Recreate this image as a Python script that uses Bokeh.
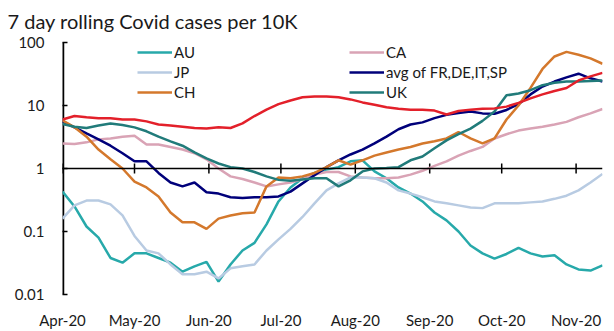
import pandas as pd
from bokeh.plotting import figure
from bokeh.models import (Range1d, FixedTicker, DatetimeTickFormatter, Span,
                          Legend, LegendItem)
from bokeh.embed import file_html
from bokeh.resources import INLINE

dates = ["2020-04-01", "2020-04-06", "2020-04-11", "2020-04-16", "2020-04-21", "2020-04-26",
         "2020-05-01", "2020-05-06", "2020-05-11", "2020-05-16", "2020-05-21", "2020-05-26",
         "2020-05-31", "2020-06-05", "2020-06-10", "2020-06-15", "2020-06-20", "2020-06-25",
         "2020-06-30", "2020-07-05", "2020-07-10", "2020-07-15", "2020-07-20", "2020-07-25",
         "2020-07-30", "2020-08-04", "2020-08-09", "2020-08-14", "2020-08-19", "2020-08-24",
         "2020-08-29", "2020-09-03", "2020-09-08", "2020-09-13", "2020-09-18", "2020-09-23",
         "2020-09-28", "2020-10-03", "2020-10-08", "2020-10-13", "2020-10-18", "2020-10-23",
         "2020-10-28", "2020-11-02", "2020-11-07", "2020-11-12"]

au = [0.43, 0.25, 0.12, 0.08, 0.038, 0.032, 0.045, 0.045, 0.038, 0.032, 0.023, 0.028,
      0.033, 0.016, 0.03, 0.05, 0.066, 0.13, 0.3, 0.5, 0.7, 0.85, 0.96, 1.05,
      1.3, 1.35, 0.9, 0.7, 0.5, 0.4, 0.3, 0.2, 0.15, 0.1, 0.06, 0.045,
      0.037, 0.044, 0.055, 0.045, 0.04, 0.042, 0.03, 0.025, 0.024, 0.029]
ca = [2.5, 2.45, 2.6, 2.9, 3.0, 3.2, 3.3, 2.4, 2.4, 2.2, 2.0, 1.75,
      1.4, 1.0, 0.75, 0.68, 0.6, 0.52, 0.56, 0.6, 0.68, 0.8, 0.88, 0.88,
      0.75, 0.72, 0.7, 0.7, 0.72, 0.8, 0.92, 1.1, 1.3, 1.6, 1.9, 2.2,
      3.0, 3.5, 4.0, 4.3, 4.6, 5.0, 5.5, 6.5, 7.5, 8.8]
jp = [0.16, 0.26, 0.31, 0.31, 0.27, 0.18, 0.085, 0.05, 0.045, 0.03, 0.021, 0.021,
      0.023, 0.018, 0.026, 0.028, 0.03, 0.05, 0.075, 0.11, 0.17, 0.28, 0.45, 0.58,
      0.72, 0.72, 0.7, 0.6, 0.45, 0.4, 0.35, 0.3, 0.28, 0.26, 0.24, 0.235,
      0.28, 0.28, 0.28, 0.29, 0.3, 0.33, 0.37, 0.45, 0.6, 0.82]
eu4 = [5.6, 4.5, 3.6, 2.9, 2.3, 1.75, 1.3, 1.3, 0.85, 0.6, 0.52, 0.6,
       0.42, 0.40, 0.35, 0.34, 0.35, 0.35, 0.36, 0.43, 0.58, 0.78, 1.05, 1.35,
       1.67, 2.0, 2.5, 3.2, 4.2, 5.0, 5.4, 6.3, 7.1, 7.6, 8.0, 7.5,
       7.4, 8.5, 10.5, 15, 20, 24, 28, 32, 27, 24]
ch = [5.8, 4.5, 3.2, 2.0, 1.4, 1.0, 0.62, 0.5, 0.36, 0.2, 0.14, 0.14,
      0.11, 0.16, 0.18, 0.195, 0.2, 0.52, 0.72, 0.7, 0.75, 0.85, 1.05, 1.35,
      1.15, 1.35, 1.6, 1.8, 2.0, 2.2, 2.5, 2.7, 3.0, 3.8, 3.0, 2.5,
      3.0, 6.0, 10, 19, 38, 60, 71, 64, 56, 46]
uk = [5.1, 4.6, 4.4, 4.8, 5.2, 4.9, 4.5, 3.9, 3.2, 2.7, 2.3, 1.8,
      1.45, 1.2, 1.05, 1.0, 0.88, 0.75, 0.66, 0.64, 0.67, 0.7, 0.7, 0.52,
      0.65, 0.9, 1.0, 1.02, 1.05, 1.35, 1.55, 2.1, 2.8, 3.5, 4.3, 5.7,
      8.0, 14.5, 15.5, 17.5, 21, 23, 24, 24, 24.5, 25]
us = [6.0, 6.8, 6.5, 6.3, 6.3, 6.0, 6.0, 5.6, 5.0, 4.8, 4.6, 4.4,
      4.3, 4.5, 4.4, 5.2, 6.8, 8.6, 10.5, 12, 13.5, 13.9, 13.9, 13.5,
      12.5, 11.2, 10.3, 9.4, 8.9, 8.6, 8.6, 8.3, 7.2, 8.2, 8.6, 8.9,
      9.0, 9.6, 11.0, 13, 15, 17, 19, 25, 29, 33]

month_ticks = ["2020-04-01", "2020-05-01", "2020-06-01", "2020-07-01",
               "2020-08-01", "2020-09-01", "2020-10-01", "2020-11-01"]
y_ticks = [0.01, 0.1, 1, 10, 100]
y_labels = ["0.01", "0.1", "1", "10", "100"]

x = pd.to_datetime(dates)
tick_dt = pd.to_datetime(month_ticks)
tick_ms = [float((t - pd.Timestamp("1970-01-01")) // pd.Timedelta(milliseconds=1)) for t in tick_dt]
start = pd.Timestamp("2020-04-01")

# frame top extends a little above 100 so the legend is not clipped
p = figure(width=614, height=331, x_axis_type="datetime", y_axis_type="log",
           x_range=Range1d(start, pd.Timestamp("2020-11-12")),
           y_range=Range1d(0.01, 134), output_backend="svg", toolbar_location=None,
           min_border_left=62, min_border_right=12, min_border_top=34, min_border_bottom=37)
p.outline_line_color = None
p.xgrid.visible = False
p.ygrid.visible = False
p.background_fill_color = "white"
p.border_fill_color = "white"

p.title.text = "7 day rolling Covid cases per 10K"
p.title.text_font = "Lato"
p.title.text_font_size = "20px"
p.title.text_font_style = "normal"
p.title.text_color = "#1a1a1a"
p.title.offset = -55
p.title.standoff = 4

font_color = "#1a1a1a"
p.yaxis.ticker = FixedTicker(ticks=y_ticks)
p.yaxis.major_label_overrides = {t: l for t, l in zip(y_ticks, y_labels)}
p.yaxis.minor_tick_line_color = None
p.yaxis.major_tick_in = 5
p.yaxis.major_tick_out = 0
p.yaxis.major_tick_line_width = 1.5
p.yaxis.axis_line_color = None
p.yaxis.major_label_standoff = 18
p.yaxis.major_label_text_font = "Lato"
p.yaxis.major_label_text_font_size = "15px"
p.yaxis.major_label_text_color = font_color

p.xaxis.ticker = FixedTicker(ticks=tick_ms)
fmt = "%b-%y"
p.xaxis.formatter = DatetimeTickFormatter(months=fmt, days=fmt, hours=fmt, years=fmt,
                                          minutes=fmt, seconds=fmt)
p.xaxis.axis_line_color = None
p.xaxis.major_tick_line_color = None
p.xaxis.minor_tick_line_color = None
p.xaxis.major_label_standoff = 10
p.xaxis.major_label_text_font = "Lato"
p.xaxis.major_label_text_font_size = "15px"
p.xaxis.major_label_text_color = font_color

# vertical axis line from 0.01 to 100 at the left edge
p.segment(x0=[start], y0=[y_ticks[0]], x1=[start], y1=[y_ticks[-1]],
          line_color="black", line_width=3.5)

p.add_layout(Span(location=1, dimension="width", line_color="black", line_width=1.5))
p.segment(x0=tick_dt, y0=[0.83] * len(tick_dt), x1=tick_dt, y1=[1.2] * len(tick_dt),
          line_color="black", line_width=1.5)

lw = 2.5
r_au = p.line(x, au, line_color="#27a9aa", line_width=lw)
r_ca = p.line(x, ca, line_color="#d9a3b5", line_width=lw)
r_jp = p.line(x, jp, line_color="#b8cbe2", line_width=lw)
r_eu = p.line(x, eu4, line_color="#00007a", line_width=lw)
r_ch = p.line(x, ch, line_color="#d4782c", line_width=lw)
r_uk = p.line(x, uk, line_color="#217b7a", line_width=lw)
r_us = p.line(x, us, line_color="#e3202a", line_width=lw)

def make_legend(items, loc):
    lg = Legend(items=[LegendItem(label=l, renderers=[r]) for l, r in items], location=loc)
    lg.glyph_width = 35
    lg.glyph_height = 20
    lg.label_height = 20
    lg.spacing = 0
    lg.padding = 0
    lg.margin = 0
    lg.label_standoff = 2
    lg.border_line_alpha = 0
    lg.background_fill_alpha = 0
    lg.label_text_font = "Lato"
    lg.label_text_font_size = "15px"
    lg.label_text_color = font_color
    return lg

p.add_layout(make_legend([("AU", r_au), ("JP", r_jp), ("CH", r_ch)], (75, 192)))
p.add_layout(make_legend([("CA", r_ca), ("avg of FR,DE,IT,SP", r_eu), ("UK", r_uk)], (287, 192)))

open("out.html", "w").write(file_html(p, INLINE))
